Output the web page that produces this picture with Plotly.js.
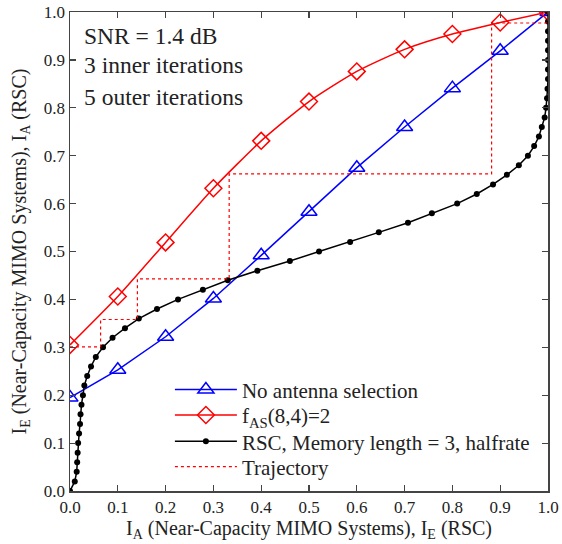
<!DOCTYPE html>
<html><head><meta charset="utf-8">
<script src="https://cdn.plot.ly/plotly-3.0.1.min.js"></script>
<style>html,body{margin:0;padding:0;background:#fff;}#plot{width:562px;height:544px;}</style>
</head><body><div id="plot"></div>
<script>
const ia = [0,0.1,0.2,0.3,0.4,0.5,0.6,0.7,0.8,0.9,1.0];
const noAS = [0.195,0.253,0.322,0.402,0.492,0.583,0.675,0.760,0.841,0.919,1.0];
const fAS = [0.305,0.406,0.519,0.632,0.731,0.813,0.876,0.922,0.954,0.978,1.0];
const rscIA = [0,0.02,0.04,0.06,0.08,0.10,0.12,0.14,0.16,0.18,0.20,0.22,0.24,0.26,0.28,0.30,0.32,0.34,0.36,0.38,0.40,0.42,0.44,0.46,0.48,0.50,0.52,0.54,0.56,0.58,0.60,0.62,0.64,0.66,0.68,0.70,0.72,0.74,0.76,0.78,0.80,0.82,0.84,0.86,0.88,0.90,0.92,0.94,0.96,0.98,1.0];
const rscIE = [0,0.010,0.014,0.015,0.016,0.017,0.019,0.021,0.022,0.024,0.027,0.030,0.036,0.044,0.054,0.069,0.089,0.115,0.144,0.182,0.226,0.278,0.330,0.392,0.460,0.521,0.586,0.646,0.707,0.757,0.810,0.851,0.885,0.914,0.939,0.958,0.971,0.981,0.987,0.993,0.996,0.998,0.999,1.0,1.0,1.0,1.0,1.0,1.0,1.0,1.0];
const trajX = [0,0.064,0.064,0.141,0.141,0.333,0.333,0.882,0.882,1.0,1.0];
const trajY = [0.301,0.301,0.358,0.358,0.443,0.443,0.662,0.662,0.977,0.977,1.0];
const tickvals = [0,0.1,0.2,0.3,0.4,0.5,0.6,0.7,0.8,0.9,1.0];
const ticktext = ['0.0','0.1','0.2','0.3','0.4','0.5','0.6','0.7','0.8','0.9','1.0'];
const infoLines = ['SNR = 1.4 dB', '3 inner iterations', '5 outer iterations'];

const serif = "Liberation Serif, Times New Roman, serif";
const traces = [
  {x: ia, y: noAS, mode: 'lines+markers', name: 'No antenna selection', legend: 'legend',
   line: {color: '#0000ff', width: 1.5},
   marker: {symbol: 'triangle-up-open', size: 14, color: '#0000ff', line: {width: 1.5, color: '#0000ff'}}},
  {x: ia, y: fAS, mode: 'lines+markers', name: 'f<sub>AS</sub>(8,4)=2', legend: 'legend2',
   line: {color: '#ff0000', width: 1.5, shape: 'spline', smoothing: 0.6},
   marker: {symbol: 'diamond-open', size: 13, color: '#ff0000', line: {width: 1.5, color: '#ff0000'}}},
  {x: rscIE, y: rscIA, mode: 'lines+markers', name: 'RSC, Memory length = 3, halfrate', legend: 'legend3',
   line: {color: '#000000', width: 1.5},
   marker: {symbol: 'circle', size: 6, color: '#000000'}},
  {x: trajX, y: trajY, mode: 'lines', name: 'Trajectory', legend: 'legend4',
   line: {color: '#ff0000', width: 1.2, dash: 'dot'}}
];
const axisCommon = {
  range: [0,1], tickvals: tickvals, ticktext: ticktext, ticks: 'inside', ticklen: 6, tickwidth: 1.2,
  tickcolor: '#444', showline: true, linecolor: '#444', linewidth: 1.5, mirror: 'ticks',
  showgrid: false, zeroline: false, tickfont: {family: serif, size: 17, color: '#222'}
};
const infoY = [0.950, 0.889, 0.823];
const legendRowY = [0.211, 0.158, 0.103, 0.050];
function leg(y) {
  return {x: 0.209, y: y, xanchor: 'left', yanchor: 'middle', bgcolor: 'rgba(0,0,0,0)',
    font: {family: serif, size: 21, color: '#222'}, itemwidth: 62};
}
const layout = {
  width: 562, height: 544,
  margin: {l: 70, r: 14, t: 12, b: 53},
  paper_bgcolor: '#fff', plot_bgcolor: '#fff',
  showlegend: true,
  legend: leg(legendRowY[0]),
  legend2: leg(legendRowY[1]),
  legend3: leg(legendRowY[2]),
  legend4: leg(legendRowY[3]),
  xaxis: Object.assign({}, axisCommon, {title: {text: 'I<sub>A</sub> (Near-Capacity MIMO Systems), I<sub>E</sub> (RSC)', font: {family: serif, size: 20, color: '#222'}, standoff: 2}}),
  yaxis: Object.assign({}, axisCommon, {title: {text: 'I<sub>E</sub> (Near-Capacity MIMO Systems), I<sub>A</sub> (RSC)', font: {family: serif, size: 20, color: '#222'}, standoff: 12}}),
  annotations: infoLines.map((t, i) => ({xref: 'paper', yref: 'paper', x: 0.025, y: infoY[i], xanchor: 'left', yanchor: 'middle', showarrow: false, text: t, font: {family: serif, size: 23.5, color: '#222'}}))
};
Plotly.newPlot('plot', traces, layout, {displayModeBar: false, staticPlot: true});
</script></body></html>
